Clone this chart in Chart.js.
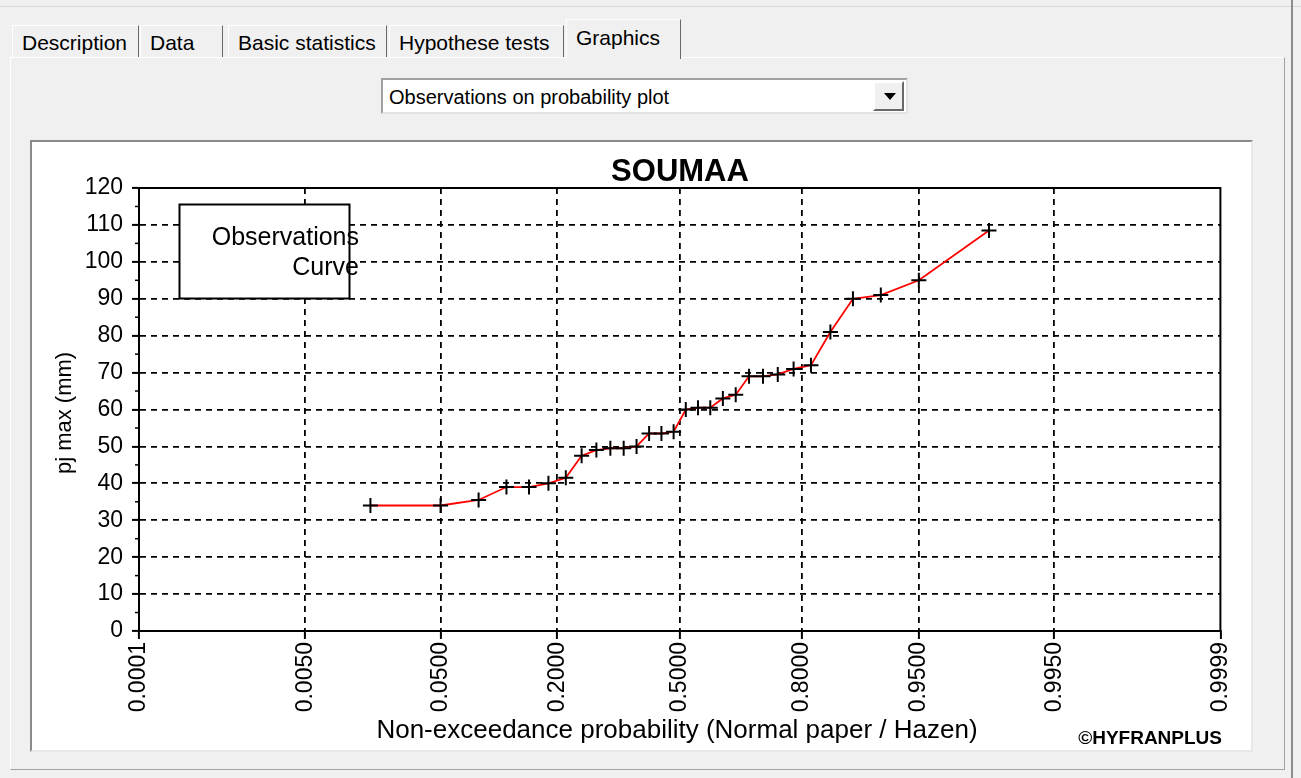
<!DOCTYPE html>
<html>
<head>
<meta charset="utf-8">
<script src="https://cdn.jsdelivr.net/npm/chart.js@4.4.0/dist/chart.umd.min.js"></script>
<style>
    body { margin: 0; width: 1301px; height: 778px; background: #f0f0f0; overflow: hidden;
           font-family: "Liberation Sans", Arial, sans-serif; position: relative; }
    .topline { position: absolute; left: 0; top: 6px; width: 1301px; height: 1px; background: #dadada; }
    .panel { position: absolute; left: 10px; top: 57px; width: 1273px; height: 711px;
             border: 1px solid; border-color: #ffffff #a0a0a0 #a0a0a0 #ffffff; background: #f0f0f0; }
    .tab { position: absolute; top: 25px; height: 32px; font-size: 21px; color: #000;
           border: 1px solid; border-bottom: none; border-color: #ffffff #696969 #696969 #ffffff;
           background: #f0f0f0; box-sizing: border-box; padding: 5px 0 0 9px; white-space: nowrap; }
    .tab.sel { top: 19px; height: 40px; padding-top: 6px; z-index: 2; }
    .combo { position: absolute; left: 381px; top: 78px; width: 527px; height: 36px; box-sizing: border-box;
             background: #fff; border: 2px solid; border-color: #a0a0a0 #e3e3e3 #e3e3e3 #a0a0a0; }
    .combo span { position: absolute; left: 6px; top: 6px; font-size: 20px; }
    .combo .btn { position: absolute; right: 2px; top: 1px; width: 31px; height: 30px; box-sizing: border-box;
                  background: #f0f0f0; border: 2px solid; border-color: #ffffff #696969 #696969 #ffffff; }
    .combo .btn i { position: absolute; left: 9px; top: 10px; width: 0; height: 0;
                    border-left: 6px solid transparent; border-right: 6px solid transparent; border-top: 7px solid #000; }
    .chartbox { position: absolute; left: 30px; top: 140px; width: 1223px; height: 612px; box-sizing: border-box;
                background: #fff; border: 2px solid; border-color: #8a8a8a #e8e8e8 #e8e8e8 #8a8a8a; }
    #probChart { position: absolute; left: 0; top: 0; }
    .rightline { position: absolute; left: 1291px; top: 0; width: 2px; height: 778px; background: #8c8c8c; }
</style>
</head>
<body>
<div class="topline"></div>
<div class="panel"></div>
<div class="tab" style="left:12px;width:127px;">Description</div>
<div class="tab" style="left:140px;width:83px;">Data</div>
<div class="tab" style="left:228px;width:159px;">Basic statistics</div>
<div class="tab" style="left:389px;width:175px;">Hypothese tests</div>
<div class="tab sel" style="left:566px;width:115px;">Graphics</div>
<div class="combo"><span>Observations on probability plot</span><div class="btn"><i></i></div></div>
<div class="chartbox"><canvas id="probChart" width="1219" height="608"></canvas></div>
<div class="rightline"></div>

<script>
// Valeurs (positions de Hazen / pluie journaliere max)
const probabilites = [0.0167, 0.05, 0.0833, 0.1167, 0.15, 0.1833, 0.2167, 0.25, 0.2833, 0.3167,
    0.35, 0.3833, 0.4167, 0.45, 0.4833, 0.5167, 0.55, 0.5833, 0.6167, 0.65,
    0.6833, 0.7167, 0.75, 0.7833, 0.8167, 0.85, 0.8833, 0.9167, 0.95, 0.9833];
const pjMax = [34, 34, 35.5, 39, 39, 40, 41.5, 47.5, 49, 49.5,
    49.5, 50, 53.5, 53.5, 54, 60, 60.5, 60.5, 63, 64,
    69, 69, 69.5, 71, 72, 81, 90, 91, 95, 108.5];
const ticksProba = [0.0001, 0.005, 0.05, 0.2, 0.5, 0.8, 0.95, 0.995, 0.9999];
const etiquettesX = ['0.0001', '0.0050', '0.0500', '0.2000', '0.5000', '0.8000', '0.9500', '0.9950', '0.9999'];
const ticksY = [0, 10, 20, 30, 40, 50, 60, 70, 80, 90, 100, 110, 120];

const police = '"Liberation Sans", Arial, sans-serif';

// Quantile de la loi normale (papier normal)
function probit(p) {
    const a = [-3.969683028665376e+01, 2.209460984245205e+02, -2.759285104469687e+02, 1.383577518672690e+02, -3.066479806614716e+01, 2.506628277459239e+00];
    const b = [-5.447609879822406e+01, 1.615858368580409e+02, -1.556989798598866e+02, 6.680131188771972e+01, -1.328068155288572e+01];
    const c = [-7.784894002430293e-03, -3.223964580411365e-01, -2.400758277161838e+00, -2.549732539343734e+00, 4.374664141464968e+00, 2.938163982698783e+00];
    const d = [7.784695709041462e-03, 3.224671290700398e-01, 2.445134137142996e+00, 3.754408661907416e+00];
    const pBas = 0.02425;
    let q, r;
    if (p < pBas) {
        q = Math.sqrt(-2 * Math.log(p));
        return (((((c[0] * q + c[1]) * q + c[2]) * q + c[3]) * q + c[4]) * q + c[5]) / ((((d[0] * q + d[1]) * q + d[2]) * q + d[3]) * q + 1);
    }
    if (p <= 1 - pBas) {
        q = p - 0.5; r = q * q;
        return (((((a[0] * r + a[1]) * r + a[2]) * r + a[3]) * r + a[4]) * r + a[5]) * q / (((((b[0] * r + b[1]) * r + b[2]) * r + b[3]) * r + b[4]) * r + 1);
    }
    q = Math.sqrt(-2 * Math.log(1 - p));
    return -(((((c[0] * q + c[1]) * q + c[2]) * q + c[3]) * q + c[4]) * q + c[5]) / ((((d[0] * q + d[1]) * q + d[2]) * q + d[3]) * q + 1);
}

// Titre, cadre, legende et textes
const decor = {
    id: 'decor',
    afterDraw(chart) {
        const { ctx, chartArea: ca, scales } = chart;
        ctx.save();
        // petites graduations de l'axe Y
        ctx.strokeStyle = '#000';
        ctx.lineWidth = 1.5;
        for (let v = 5; v < 120; v += 10) {
            const y = scales.y.getPixelForValue(v);
            ctx.beginPath();
            ctx.moveTo(ca.left - 4, y);
            ctx.lineTo(ca.left, y);
            ctx.stroke();
        }
        // cadre
        ctx.lineWidth = 2;
        ctx.strokeRect(ca.left, ca.top, ca.right - ca.left, ca.bottom - ca.top);

        // legende
        ctx.fillStyle = '#fff';
        ctx.fillRect(147.5, 62.5, 170, 94);
        ctx.lineWidth = 2;
        ctx.strokeRect(147.5, 62.5, 170, 94);
        ctx.fillStyle = '#000';
        ctx.font = '25px ' + police;
        ctx.textAlign = 'right';
        ctx.textBaseline = 'alphabetic';
        ctx.fillText('Observations', 327, 103);
        ctx.fillText('Curve', 327, 133);

        // titre
        ctx.textAlign = 'center';
        ctx.font = 'bold 31px ' + police;
        ctx.fillText('SOUMAA', 648, 39);

        // titres des axes
        ctx.font = '26px ' + police;
        ctx.fillText('Non-exceedance probability (Normal paper / Hazen)', 645, 596);
        ctx.save();
        ctx.translate(33, 271);
        ctx.rotate(-Math.PI / 2);
        ctx.font = '22px ' + police;
        ctx.textBaseline = 'middle';
        ctx.fillText('pj max (mm)', 0, 0);
        ctx.restore();

        ctx.textAlign = 'right';
        ctx.font = 'bold 19px ' + police;
        ctx.fillText('\u00A9HYFRANPLUS', 1190, 602);
        ctx.restore();
    }
};

function inicializarGrafica() {
    const ctx = document.getElementById('probChart').getContext('2d');
    const puntos = probabilites.map((p, i) => ({ x: probit(p), y: pjMax[i] }));
    const dernier = ticksProba.length - 1;

    new Chart(ctx, {
        type: 'scatter',
        data: {
            datasets: [{
                label: 'Observations',
                data: puntos,
                showLine: true,
                tension: 0,
                borderColor: '#ff0000',
                borderWidth: 1.8,
                pointStyle: 'cross',
                pointRadius: 7.5,
                pointHoverRadius: 7.5,
                pointBorderColor: '#000',
                pointBorderWidth: 2
            }]
        },
        options: {
            responsive: false,
            animation: false,
            devicePixelRatio: 1,
            layout: { padding: { top: 46, right: 25, left: 0, bottom: 0 } },
            plugins: {
                legend: { display: false },
                tooltip: { enabled: false },
                title: { display: false }
            },
            scales: {
                x: {
                    type: 'linear',
                    min: probit(ticksProba[0]),
                    max: probit(ticksProba[dernier]),
                    afterBuildTicks: s => { s.ticks = ticksProba.map(p => ({ value: probit(p) })); },
                    afterFit: s => { s.height = 119; },
                    ticks: {
                        autoSkip: false,
                        minRotation: 90,
                        maxRotation: 90,
                        padding: 3,
                        color: '#000',
                        font: { family: police, size: 23 },
                        callback: (v, i) => etiquettesX[i]
                    },
                    grid: {
                        color: c => (c.index === 0 || c.index === dernier) ? 'rgba(0,0,0,0)' : '#000',
                        lineWidth: 1.8,
                        tickLength: 8,
                        tickColor: '#000',
                        tickWidth: 2
                    },
                    border: { color: '#000', width: 2, dash: [6, 5] }
                },
                y: {
                    min: 0,
                    max: 120,
                    afterBuildTicks: s => { s.ticks = ticksY.map(v => ({ value: v })); },
                    afterFit: s => { s.width = 107; },
                    ticks: {
                        padding: 9,
                        color: '#000',
                        font: { family: police, size: 23 }
                    },
                    grid: {
                        color: c => (c.index === 0 || c.index === ticksY.length - 1) ? 'rgba(0,0,0,0)' : '#000',
                        lineWidth: 1.8,
                        tickLength: 7,
                        tickColor: '#000',
                        tickWidth: 2
                    },
                    border: { color: '#000', width: 2, dash: [6, 5] }
                }
            }
        },
        plugins: [decor]
    });
}

document.addEventListener('DOMContentLoaded', () => {
    inicializarGrafica();
});
</script>
</body>
</html>
